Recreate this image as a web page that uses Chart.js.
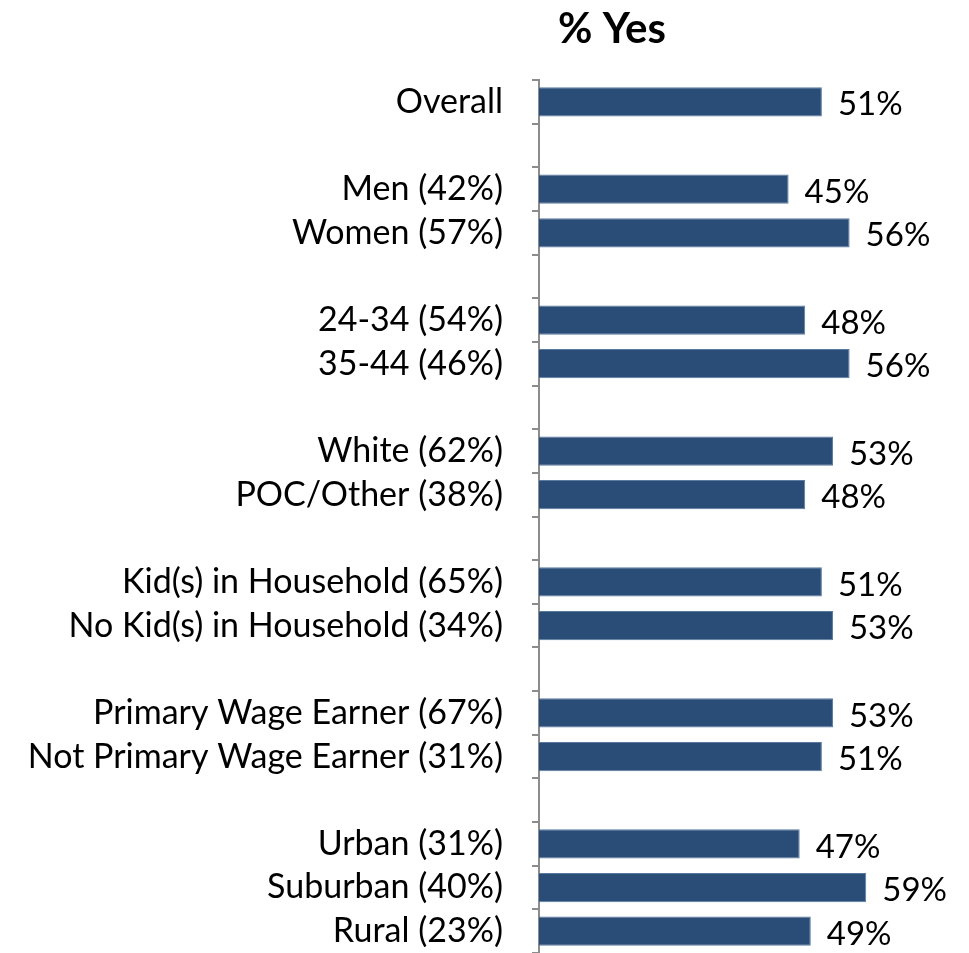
<!DOCTYPE html>
<html>
<head>
<meta charset="utf-8">
<script src="https://cdn.jsdelivr.net/npm/chart.js@4/dist/chart.umd.min.js"></script>
<style>
  html, body { margin: 0; padding: 0; background: #fff; overflow: hidden; }
</style>
</head>
<body>
<canvas id="chart" width="969" height="953"></canvas>
<script>
// groups separated by blank rows
const CATEGORIES = [
  'Overall', '',
  'Men (42%)', 'Women (57%)', '',
  '24-34 (54%)', '35-44 (46%)', '',
  'White (62%)', 'POC/Other (38%)', '',
  'Kid(s) in Household (65%)', 'No Kid(s) in Household (34%)', '',
  'Primary Wage Earner (67%)', 'Not Primary Wage Earner (31%)', '',
  'Urban (31%)', 'Suburban (40%)', 'Rural (23%)'
];
const YES_PCT = [
  51, null,
  45, 56, null,
  48, 56, null,
  53, 48, null,
  51, 53, null,
  53, 51, null,
  47, 59, 49
];
const TITLE = '% Yes';

const FONT = 'Lato, "Open Sans", sans-serif';
const BAR  = '#2a4d77';
const AXIS_W = 539;   // label column + axis line

// value labels at the end of each bar + title over the bars
const barLabels = {
  id: 'barLabels',
  afterDatasetsDraw(chart) {
    const { ctx } = chart;
    const meta = chart.getDatasetMeta(0);
    ctx.save();
    ctx.font = `33px ${FONT}`;
    ctx.fillStyle = '#000';
    ctx.textAlign = 'left';
    ctx.textBaseline = 'middle';
    meta.data.forEach((bar, i) => {
      const v = YES_PCT[i];
      if (v == null) return;
      ctx.fillText(v + '%', bar.x + 16, bar.y + 3);
    });
    ctx.font = `bold 42px ${FONT}`;
    ctx.textAlign = 'center';
    ctx.fillText(TITLE, chart.chartArea.left + 73, 29);
    ctx.restore();
  }
};

new Chart(document.getElementById('chart'), {
  type: 'bar',
  data: {
    labels: CATEGORIES,
    datasets: [{
      data: YES_PCT,
      backgroundColor: BAR,
      borderColor: '#5a7aa0',
      borderWidth: 1,
      barPercentage: 0.67,
      categoryPercentage: 1
    }]
  },
  options: {
    indexAxis: 'y',
    responsive: false,
    animation: false,
    layout: { padding: { top: 80, right: 14, bottom: -4, left: 0 } },
    scales: {
      x: {
        display: false,
        min: 0,
        max: 75
      },
      y: {
        afterFit(scale) {
          scale.width = AXIS_W;
          scale.paddingTop = 0;
          scale.paddingBottom = 0;
        },
        border: { display: true, color: '#8c8c8c', width: 2 },
        grid: {
          offset: true,
          drawOnChartArea: false,
          drawTicks: true,
          tickLength: 7,
          color: '#8c8c8c',
          lineWidth: 2
        },
        ticks: {
          color: '#000',
          padding: 29,
          autoSkip: false,
          font: { family: FONT, size: 34 }
        }
      }
    },
    plugins: {
      legend: { display: false },
      tooltip: { enabled: false },
      title: { display: false }
    }
  },
  plugins: [barLabels]
});
</script>
</body>
</html>
